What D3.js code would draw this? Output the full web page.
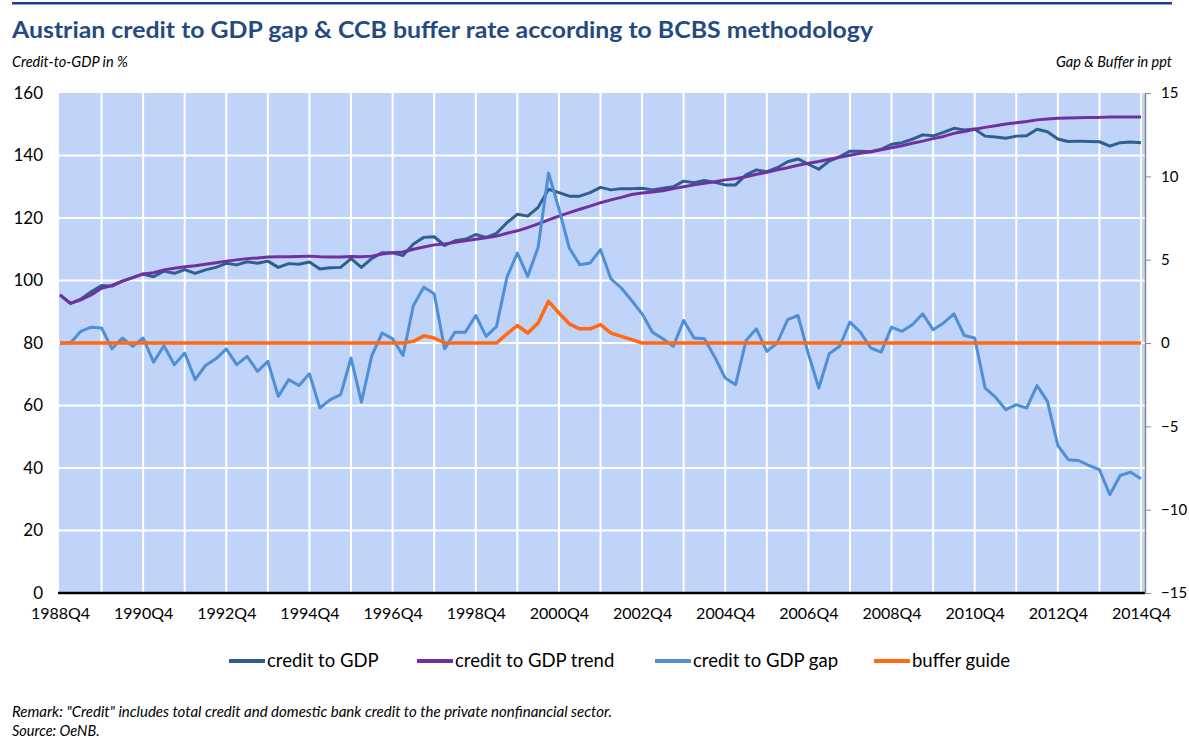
<!DOCTYPE html>
<html>
<head>
<meta charset="utf-8">
<script src="https://cdn.jsdelivr.net/npm/d3@7"></script>
<style>
  body { margin: 0; background: #fff; }
  text { font-family: Lato, "Open Sans", sans-serif; }
</style>
</head>
<body>
<script>
'use strict';

// quarters 1988Q4 .. 2014Q4
const startYear = 1988;
const quarters = d3.range(105).map(function(i) {
  const q = (3 + i) % 4 + 1;
  const y = startYear + Math.floor((3 + i) / 4);
  return y + "Q" + q;
});
const tickLabels = ["1988Q4","1990Q4","1992Q4","1994Q4","1996Q4","1998Q4","2000Q4",
  "2002Q4","2004Q4","2006Q4","2008Q4","2010Q4","2012Q4","2014Q4"];
const leftTicks = [0, 20, 40, 60, 80, 100, 120, 140, 160];
const rightTicks = [-15, -10, -5, 0, 5, 10, 15];

// credit to GDP in % (left axis)
const creditToGdp = [
  95.4, 92.7, 94.0, 96.4, 98.4, 98.2, 99.8, 100.9, 102.1, 101.2,
  103.0, 102.3, 103.5, 102.3, 103.4, 104.2, 105.5, 105.0, 106.0, 105.5,
  106.2, 104.2, 105.4, 105.2, 105.9, 103.7, 104.1, 104.2, 107.0, 104.2,
  107.1, 108.9, 108.9, 108.0, 111.7, 113.8, 114.0, 111.2, 112.7, 113.2,
  114.7, 113.8, 115.1, 118.5, 121.2, 120.6, 123.4, 129.2, 128.1, 127.0,
  127.0, 128.1, 129.8, 129.0, 129.4, 129.4, 129.5, 129.0, 129.5, 130.0,
  131.8, 131.3, 132.0, 131.4, 130.6, 130.6, 133.8, 135.4, 134.8, 136.1,
  138.0, 138.9, 137.2, 135.6, 138.2, 139.6, 141.4, 141.4, 141.2, 142.0,
  143.6, 144.1, 145.2, 146.6, 146.3, 147.4, 148.7, 148.2, 148.5, 146.2,
  145.9, 145.5, 146.2, 146.3, 148.4, 147.6, 145.3, 144.5, 144.6, 144.5,
  144.4, 143.0, 144.1, 144.3, 144.1
];

// credit to GDP trend in % (left axis)
const creditTrend = [
  95.4, 92.7, 93.8, 95.4, 97.5, 98.4, 99.8, 100.9, 102.1, 102.5,
  103.4, 103.9, 104.4, 104.7, 105.2, 105.7, 106.2, 106.6, 107.0, 107.2,
  107.5, 107.6, 107.6, 107.7, 107.8, 107.6, 107.5, 107.5, 107.7, 107.6,
  107.8, 108.5, 108.9, 109.1, 110.0, 110.7, 111.4, 111.7, 112.2, 112.7,
  113.2, 113.7, 114.2, 115.1, 115.9, 116.9, 118.1, 119.4, 120.6, 121.7,
  122.8, 123.8, 124.9, 125.8, 126.6, 127.5, 128.0, 128.3, 128.7, 129.4,
  130.0, 130.6, 131.1, 131.6, 132.2, 132.6, 133.2, 134.0, 134.6, 135.4,
  136.1, 136.9, 137.5, 138.1, 138.8, 139.4, 140.1, 140.7, 141.2, 141.8,
  142.5, 143.1, 143.9, 144.6, 145.4, 146.1, 147.1, 147.7, 148.4, 149.0,
  149.5, 150.1, 150.5, 150.9, 151.4, 151.7, 151.9, 152.0, 152.1, 152.2,
  152.2, 152.3, 152.3, 152.3, 152.3
];

// credit to GDP gap in ppt (right axis)
const creditGap = [
  0.0, 0.0, 0.7, 0.95, 0.9, -0.35, 0.3, -0.2, 0.3, -1.15,
  -0.17, -1.3, -0.6, -2.2, -1.35, -0.95, -0.35, -1.3, -0.8, -1.7,
  -1.1, -3.2, -2.2, -2.55, -1.85, -3.9, -3.4, -3.1, -0.9, -3.55,
  -0.75, 0.6, 0.25, -0.75, 2.25, 3.35, 2.95, -0.35, 0.65, 0.65,
  1.65, 0.4, 1.0, 3.95, 5.4, 4.0, 5.75, 10.2, 8.05, 5.7,
  4.7, 4.8, 5.6, 3.85, 3.3, 2.55, 1.75, 0.65, 0.25, -0.2,
  1.35, 0.3, 0.25, -0.85, -2.1, -2.5, 0.15, 0.85, -0.5, 0.0,
  1.4, 1.65, -0.65, -2.7, -0.65, -0.2, 1.25, 0.65, -0.3, -0.55,
  0.95, 0.7, 1.1, 1.75, 0.8, 1.2, 1.75, 0.45, 0.3, -2.7,
  -3.25, -4.0, -3.7, -3.9, -2.55, -3.5, -6.15, -7.0, -7.05, -7.35,
  -7.6, -9.1, -7.95, -7.75, -8.15
];

// buffer guide in ppt (right axis)
const bufferGuide = [
  0, 0, 0, 0, 0, 0, 0, 0, 0, 0,
  0, 0, 0, 0, 0, 0, 0, 0, 0, 0,
  0, 0, 0, 0, 0, 0, 0, 0, 0, 0,
  0, 0, 0, 0, 0.1, 0.43, 0.3, 0, 0, 0,
  0, 0, 0, 0.55, 1.05, 0.6, 1.2, 2.5, 1.8, 1.15,
  0.85, 0.85, 1.1, 0.6, 0.4, 0.2, 0, 0, 0, 0,
  0, 0, 0, 0, 0, 0, 0, 0, 0, 0,
  0, 0, 0, 0, 0, 0, 0, 0, 0, 0,
  0, 0, 0, 0, 0, 0, 0, 0, 0, 0,
  0, 0, 0, 0, 0, 0, 0, 0, 0, 0,
  0, 0, 0, 0, 0
];

const seriesNames = ["credit to GDP", "credit to GDP trend", "credit to GDP gap", "buffer guide"];
const seriesColors = ["#2f5f8e", "#7030a0", "#4f8fd6", "#ff6a12"];

// canevas
const svg = d3.select("body").append("svg")
  .attr("width", 1189)
  .attr("height", 742);

// top rule + title
svg.append("rect")
  .attr("x", 12).attr("y", 2).attr("width", 1160).attr("height", 2.5)
  .style("fill", "#1f3f8e");

svg.append("text")
  .attr("x", 12).attr("y", 38)
  .attr("textLength", 861).attr("lengthAdjust", "spacingAndGlyphs")
  .style("font-size", "23.5px").style("font-weight", "bold").style("fill", "#244a80")
  .text("Austrian credit to GDP gap & CCB buffer rate according to BCBS methodology");

svg.append("text")
  .attr("x", 12).attr("y", 67)
  .style("font-size", "14.5px").style("font-style", "italic")
  .text("Credit-to-GDP in %");

svg.append("text")
  .attr("x", 1172).attr("y", 67)
  .attr("text-anchor", "end")
  .style("font-size", "14.5px").style("font-style", "italic")
  .text("Gap & Buffer in ppt");

// scales
const x = d3.scalePoint()
  .domain(quarters)
  .range([60, 1141]);

const yLeft = d3.scaleLinear()
  .domain([0, 160])
  .range([593, 93]);

const yRight = d3.scaleLinear()
  .domain([-15, 15])
  .range([593, 93]);

// plot background
svg.append("rect")
  .attr("x", 59).attr("y", 93)
  .attr("width", 1145 - 59).attr("height", 593 - 93)
  .style("fill", "#c0d3f8");

// gridlines
svg.append("g")
  .selectAll("line")
  .data(leftTicks.slice(1, -1))
  .enter().append("line")
    .attr("x1", 59).attr("x2", 1145)
    .attr("y1", d => yLeft(d)).attr("y2", d => yLeft(d))
    .style("stroke", "#fff").style("stroke-width", 2);

svg.append("g")
  .selectAll("line")
  .data(quarters.filter((q, i) => i > 0 && i % 4 === 0))
  .enter().append("line")
    .attr("x1", d => x(d)).attr("x2", d => x(d))
    .attr("y1", 93).attr("y2", 593)
    .style("stroke", "#fff").style("stroke-width", 2);

// lines
const lineLeft = d3.line()
  .x((d, i) => x(quarters[i]))
  .y(d => yLeft(d));

const lineRight = d3.line()
  .x((d, i) => x(quarters[i]))
  .y(d => yRight(d));

svg.append("path").datum(creditToGdp)
  .attr("d", lineLeft)
  .style("fill", "none").style("stroke", seriesColors[0]).style("stroke-width", 3)
  .style("stroke-linejoin", "round");

svg.append("path").datum(creditTrend)
  .attr("d", lineLeft)
  .style("fill", "none").style("stroke", seriesColors[1]).style("stroke-width", 3)
  .style("stroke-linejoin", "round");

svg.append("path").datum(creditGap)
  .attr("d", lineRight)
  .style("fill", "none").style("stroke", seriesColors[2]).style("stroke-width", 3)
  .style("stroke-linejoin", "round");

svg.append("path").datum(bufferGuide)
  .attr("d", lineRight)
  .style("fill", "none").style("stroke", seriesColors[3]).style("stroke-width", 3.5)
  .style("stroke-linejoin", "round");

// axe des X
const axeX = svg.append("g")
  .attr("transform", "translate(0,593)")
  .call(d3.axisBottom(x).tickValues(tickLabels).tickSize(0).tickPadding(15));
axeX.select(".domain").remove();
axeX.selectAll("text").style("font-size", "16px").style("fill", "#000").style("font-family", "Lato");

svg.append("line")
  .attr("x1", 58).attr("x2", 1145)
  .attr("y1", 593).attr("y2", 593)
  .style("stroke", "#000").style("stroke-width", 2.5);

// axe de gauche
const axeY = svg.append("g")
  .attr("transform", "translate(60,0)")
  .call(d3.axisLeft(yLeft).tickValues(leftTicks).tickSize(0).tickPadding(17));
axeY.select(".domain").remove();
axeY.selectAll("text").style("font-size", "17px").style("fill", "#000").style("font-family", "Lato");

// axe de droite
const axeY2 = svg.append("g")
  .attr("transform", "translate(1145,0)")
  .call(d3.axisRight(yRight).tickValues(rightTicks).tickSize(6).tickSizeOuter(0).tickPadding(10));
axeY2.select(".domain").style("stroke", "#8a8a8a").style("stroke-width", 1.5);
axeY2.selectAll("line").style("stroke", "#8a8a8a");
axeY2.selectAll("text").style("font-size", "15px").style("fill", "#000").style("font-family", "Lato");

// legend
const legendX = [229, 417, 655, 874];
const legend = svg.append("g")
  .selectAll("g")
  .data(seriesNames)
  .enter().append("g")
    .attr("transform", (d, i) => "translate(" + legendX[i] + ",661)");

legend.append("line")
  .attr("x1", 0).attr("x2", 36)
  .style("stroke", (d, i) => seriesColors[i]).style("stroke-width", 4);

legend.append("text")
  .attr("x", 38).attr("y", 0).attr("dy", "0.35em")
  .style("font-size", "18.5px")
  .text(d => d);

// footer
svg.append("text")
  .attr("x", 12).attr("y", 717)
  .attr("textLength", 600).attr("lengthAdjust", "spacingAndGlyphs")
  .style("font-size", "14.5px").style("font-style", "italic")
  .text("Remark: \"Credit\" includes total credit and domestic bank credit to the private nonfinancial sector.");

svg.append("text")
  .attr("x", 12).attr("y", 736)
  .style("font-size", "14.5px").style("font-style", "italic")
  .text("Source: OeNB.");
</script>
</body>
</html>
